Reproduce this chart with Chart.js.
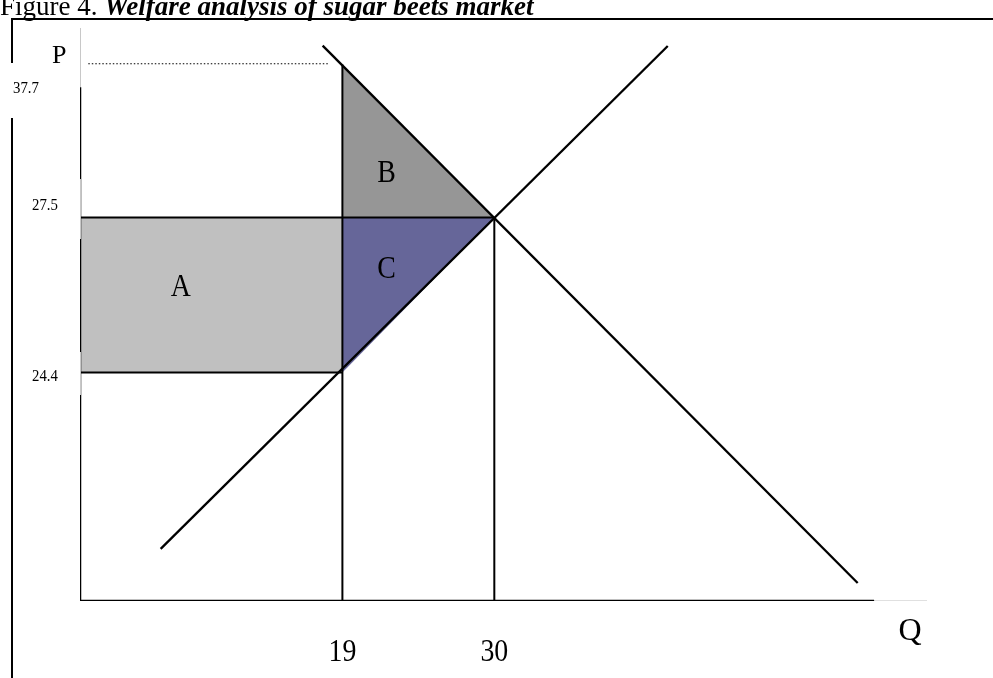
<!DOCTYPE html>
<html>
<head>
<meta charset="utf-8">
<script src="https://cdn.jsdelivr.net/npm/chart.js@4.4.1/dist/chart.umd.min.js"></script>
<style>
  html, body { margin: 0; padding: 0; background: #ffffff; }
  #wrap { position: relative; width: 993px; height: 678px; }
</style>
</head>
<body>
<div id="wrap"><canvas id="c"></canvas></div>
<script>
// ---- data (schematic diagram; prices are placed at schematic heights) ----
const quantityTicks = [19, 30];                 // Q values marked on the axis
const priceLabels   = ['24.4', '27.5', '37.7']; // price labels on the P axis
const pricePos      = [16.55, 27.76, 38.85];    // where those prices sit on the diagram's vertical axis
const demandX = [17.57, 56.31];
const demandY = [40.21, 1.30];
const supplyX = [5.84, 42.56];
const supplyY = [3.77, 40.19];
const axisLabels = ['P', 'Q'];
const areaLabels = ['A', 'B', 'C'];
const titleRegular = 'Figure 4. ';
const titleBold = 'Welfare analysis of sugar beets market';

const X_MAX = 61.33, Y_MAX = 41.49;
const [qLow, qEq] = quantityTicks;
const [pLow, pEq, pHigh] = pricePos;

const pts = (xs, ys) => xs.map((x, i) => ({ x, y: ys[i] }));
const line = (data, color, width, extra) => Object.assign({
  data, borderColor: color, borderWidth: width, showLine: true,
  pointRadius: 0, fill: false, tension: 0
}, extra || {});

// listed bottom layer first; each gets an 'order' so later entries are painted on top
const layers = [
  // shaded areas
  line(pts([0, qLow], [pEq, pEq]), 'rgba(0,0,0,0)', 0, { fill: { value: pLow }, backgroundColor: '#c0c0c0' }),
  line(pts([qLow, qEq], [pHigh, pEq]), 'rgba(0,0,0,0)', 0, { fill: { value: pEq }, backgroundColor: '#969696' }),
  line(pts([qLow, qEq], [pLow, pEq]), 'rgba(0,0,0,0)', 0, { fill: { value: pEq }, backgroundColor: '#666699' }),
  // axes
  line(pts([0, X_MAX], [0, 0]), '#c0c0c0', 1),
  line(pts([0, 57.5], [0, 0]), '#000', 2.5),
  line(pts([0, 0], [0, Y_MAX]), '#c8c8c8', 1),
  line(pts([0, 0], [0, 37.2]), '#000', 2.5),
  // guide lines
  line(pts([0, qEq], [pEq, pEq]), '#000', 2),
  line(pts([0, qLow], [pLow, pLow]), '#000', 2),
  line(pts([qLow, qLow], [0, pHigh]), '#000', 2),
  line(pts([qEq, qEq], [0, pEq]), '#000', 2),
  line(pts([0.6, 18.0], [pHigh + 0.05, pHigh + 0.05]), '#000', 1.2, { borderDash: [1.5, 2] }),
  // demand & supply
  line(pts(demandX, demandY), '#000', 2.3),
  line(pts(supplyX, supplyY), '#000', 2.3)
];
const datasets = layers.map((d, i) => Object.assign(d, { order: layers.length - i }));

function drawText(ctx, txt, x, y, size, sx, align, font) {
  ctx.save();
  ctx.font = (font || '') + ' ' + size + 'px "Liberation Serif", "Times New Roman", serif';
  ctx.textBaseline = 'alphabetic';
  ctx.fillStyle = '#000';
  ctx.translate(x, y);
  ctx.scale(sx, 1);
  const w = ctx.measureText(txt).width;
  let dx = 0;
  if (align === 'center') dx = -w / 2;
  else if (align === 'right') dx = -w;
  ctx.fillText(txt, dx, 0);
  ctx.restore();
}

const decor = {
  id: 'decor',
  afterDatasetsDraw(chart) {
    const ctx = chart.ctx;
    const xs = chart.scales.x, ys = chart.scales.y;
    const X = v => xs.getPixelForValue(v), Y = v => ys.getPixelForValue(v);
    // white label boxes on the left
    ctx.save();
    ctx.fillStyle = '#fff';
    ctx.fillRect(13, 28, X(0) - 13, 59);
    ctx.fillRect(0, 63, 60, 55);
    ctx.fillRect(13, 179, X(0) - 13, 60);
    ctx.fillRect(13, 352, X(0) - 13, 43);
    ctx.strokeStyle = '#c8c8c8'; ctx.lineWidth = 1;
    ctx.beginPath();
    ctx.moveTo(X(0) + 0.5, 28); ctx.lineTo(X(0) + 0.5, 87);
    ctx.moveTo(X(0) + 0.5, 179); ctx.lineTo(X(0) + 0.5, 239);
    ctx.moveTo(X(0) + 0.5, 352); ctx.lineTo(X(0) + 0.5, 395);
    ctx.stroke();
    // frame lines
    ctx.strokeStyle = '#000'; ctx.lineWidth = 2;
    ctx.beginPath();
    ctx.moveTo(11, 19); ctx.lineTo(993, 19);
    ctx.moveTo(12, 19); ctx.lineTo(12, 63);
    ctx.moveTo(12, 118); ctx.lineTo(12, 678);
    ctx.stroke();
    ctx.restore();

    // title (cut off at top)
    ctx.save();
    ctx.font = '27px "Liberation Serif", serif';
    ctx.fillStyle = '#000';
    ctx.textBaseline = 'alphabetic';
    ctx.fillText(titleRegular, 0, 15);
    const w1 = ctx.measureText(titleRegular).width;
    ctx.font = 'italic bold 27px "Liberation Serif", serif';
    ctx.fillText(titleBold, w1, 15);
    ctx.restore();

    // axis letters
    drawText(ctx, axisLabels[0], 52, 63, 26, 1, 'left');
    drawText(ctx, axisLabels[1], 910, 640, 32, 1, 'center');
    // price labels
    drawText(ctx, priceLabels[2], 13, Y(pHigh) + 29, 17, 0.87, 'left');
    drawText(ctx, priceLabels[1], 32, Y(pEq) - 8, 17, 0.87, 'left');
    drawText(ctx, priceLabels[0], 32, Y(pLow) + 9, 17, 0.87, 'left');
    // quantity labels
    quantityTicks.forEach(q => drawText(ctx, String(q), X(q) + 0, 661, 32, 0.87, 'center'));
    // area labels
    drawText(ctx, areaLabels[0], X(qLow / 2 - 2.2), (Y(pEq) + Y(pLow)) / 2 + 1, 32, 0.87, 'center');
    drawText(ctx, areaLabels[1], X(qLow + 3.2), 182, 32, 0.87, 'center');
    drawText(ctx, areaLabels[2], X(qLow + 3.2), 278, 32, 0.87, 'center');
  }
};

new Chart(document.getElementById('c'), {
  type: 'scatter',
  data: { datasets },
  options: {
    responsive: true,
    maintainAspectRatio: false,
    animation: false,
    layout: { padding: { left: 80, top: 28, right: 66, bottom: 77 } },
    plugins: { legend: { display: false }, tooltip: { enabled: false } },
    scales: {
      x: { type: 'linear', min: 0, max: X_MAX, display: false },
      y: { type: 'linear', min: 0, max: Y_MAX, display: false }
    }
  },
  plugins: [decor]
});
</script>
</body>
</html>
